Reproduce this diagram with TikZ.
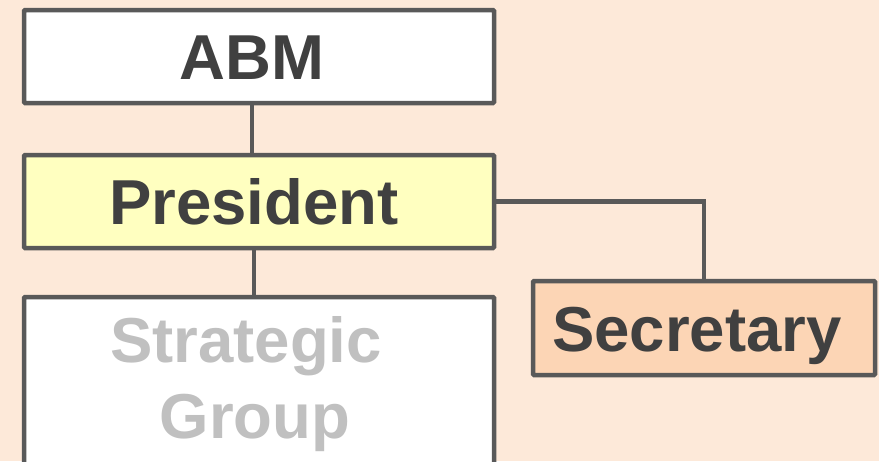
\documentclass[tikz,border=0pt]{standalone}
\usepackage{fontspec}
\setmainfont{Liberation Sans}
\definecolor{bgc}{HTML}{FDE9D9}
\definecolor{linec}{HTML}{595959}
\definecolor{txtc}{HTML}{404040}
\definecolor{yel}{HTML}{FFFFC0}
\definecolor{sec}{HTML}{FCD5B5}
\definecolor{greytxt}{HTML}{C0C0C0}
\tikzset{
  lbl/.style={font=\bfseries\fontsize{63.5}{76}\selectfont},
  box/.style={draw=linec, line width=4.5pt, rounded corners=1pt, inner sep=0pt,
    lbl, text=txtc, text height=46.5pt, text depth=0pt},
  conn/.style={draw=linec, line width=4.5pt},
}
\begin{document}
\begin{tikzpicture}[x=1pt,y=-1pt]
\clip (0,0) rectangle (879,461);
\fill[bgc] (0,0) rectangle (879,461);
\node[box, fill=white, minimum width=470pt, minimum height=93pt] (abm) at (259,56.5) {ABM\hspace*{14pt}};
\node[box, fill=yel, minimum width=470pt, minimum height=93pt] (pres) at (259,201.5) {President\hspace*{10pt}};
\node[box, fill=white, minimum width=470pt, minimum height=183pt] (sg) at (259,388.5) {};
\node[box, fill=sec, minimum width=342pt, minimum height=94pt] (secr) at (704,328) {Secretary\hspace*{14pt}};
\node[lbl, text=greytxt, anchor=base, inner sep=0pt] (sg1) at (246,362) {Strategic};
\node[lbl, text=greytxt, anchor=base, inner sep=0pt] (sg2) at (255,438) {Group};
\draw[conn] ([xshift=-7pt]abm.south) -- ([xshift=-7pt]pres.north);
\draw[conn] ([xshift=-5pt]pres.south) -- ([xshift=-5pt]sg.north);
\draw[conn] (pres.east) -| (secr.north);
\end{tikzpicture}
\end{document}
